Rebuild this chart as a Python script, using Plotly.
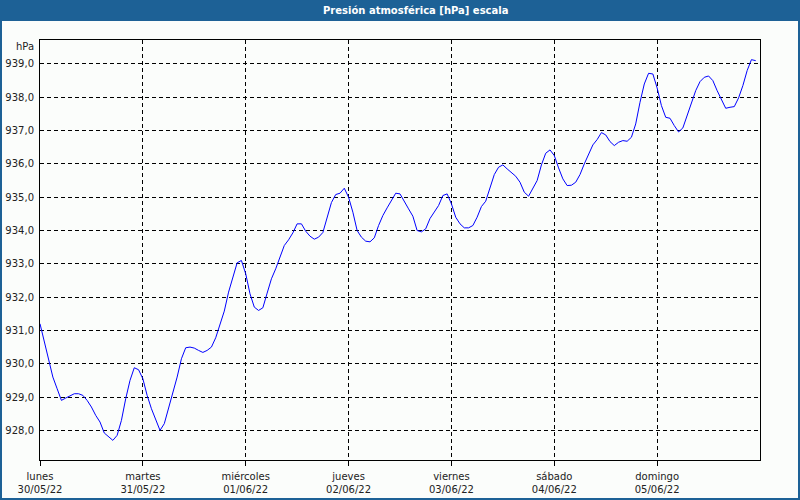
import plotly.graph_objects as go
import pandas as pd

title_text = "Presión atmosférica [hPa] escala"
start_time = "2022-05-30 00:00"

pressure_hpa = [
    931.2, 930.65, 930.1, 929.6, 929.25, 928.9, 928.97, 929.03, 929.1, 929.1,
    929.05, 928.9, 928.7, 928.45, 928.25, 927.92, 927.82, 927.7, 927.85, 928.3,
    928.95, 929.5, 929.88, 929.82, 929.55, 929.05, 928.65, 928.35, 928.0, 928.2,
    928.65, 929.1, 929.6, 930.15, 930.48, 930.5, 930.47, 930.4, 930.34, 930.4,
    930.5, 930.78, 931.22, 931.58, 932.15, 932.6, 933.03, 933.1, 932.7, 932.1,
    931.7, 931.6, 931.68, 932.12, 932.55, 932.85, 933.2, 933.55, 933.72, 933.93,
    934.2, 934.2, 933.98, 933.83, 933.74, 933.8, 933.94, 934.38, 934.84, 935.08,
    935.12, 935.27, 935.0, 934.55, 934.0, 933.8, 933.68, 933.66, 933.78, 934.15,
    934.45, 934.68, 934.9, 935.12, 935.1, 934.85, 934.65, 934.43, 934.0, 933.96,
    934.05, 934.36, 934.57, 934.75, 935.05, 935.1, 934.8, 934.4, 934.2, 934.08,
    934.08, 934.15, 934.4, 934.72, 934.88, 935.3, 935.68, 935.9, 935.97, 935.85,
    935.74, 935.63, 935.45, 935.15, 935.03, 935.28, 935.5, 935.97, 936.32, 936.42,
    936.25, 935.88, 935.55, 935.35, 935.36, 935.45, 935.68, 936.0, 936.3, 936.57,
    936.73, 936.94, 936.87, 936.67, 936.55, 936.65, 936.7, 936.68, 936.8, 937.2,
    937.85, 938.4, 938.72, 938.7, 938.28, 937.75, 937.4, 937.37, 937.15, 936.96,
    937.08, 937.45, 937.88, 938.2, 938.47, 938.6, 938.64, 938.5, 938.2, 937.94,
    937.67, 937.7, 937.72, 937.98, 938.35, 938.8, 939.13, 939.1,
]

day_dates = ["2022-05-30", "2022-05-31", "2022-06-01", "2022-06-02",
             "2022-06-03", "2022-06-04", "2022-06-05"]
day_names = ["lunes", "martes", "miércoles", "jueves", "viernes", "sábado", "domingo"]
day_labels = ["30/05/22", "31/05/22", "01/06/22", "02/06/22",
              "03/06/22", "04/06/22", "05/06/22"]
y_ticks = [928, 929, 930, 931, 932, 933, 934, 935, 936, 937, 938, 939]
y_unit = "hPa"

times = pd.date_range(start_time, periods=len(pressure_hpa), freq="h")

FONT = "DejaVu Sans"
TXT = "#222222"
BLUE_BAR = "#1d6196"

fig = go.Figure()
fig.add_trace(go.Scatter(
    x=times, y=pressure_hpa, mode="lines",
    line=dict(color="#0000ff", width=1),
    hoverinfo="skip", showlegend=False,
))

fig.update_layout(
    width=800, height=500,
    margin=dict(l=40, r=40, t=40, b=40, autoexpand=False),
    paper_bgcolor="#fbfdfb",
    plot_bgcolor="#fbfdfb",
    separators=",.",
    font=dict(family=FONT, size=10, color=TXT),
    showlegend=False,
    xaxis=dict(
        type="date",
        range=["2022-05-30 00:00", "2022-06-06 00:00"],
        tickvals=day_dates,
        ticktext=[f"{n}<br>{d}" for n, d in zip(day_names, day_labels)],
        ticks="outside", ticklen=5, tickcolor="#000000", tickwidth=1,
        ticklabelstandoff=2,
        automargin=False,
        showgrid=True, gridcolor="#000000", gridwidth=1, griddash="4px,3px",
        showline=True, linecolor="#000000", linewidth=1, mirror=True,
        zeroline=False,
        tickfont=dict(family=FONT, size=10, color=TXT),
        fixedrange=True,
    ),
    yaxis=dict(
        range=[927.11, 939.72],
        tickvals=y_ticks,
        tickformat=".1f",
        ticks="",
        automargin=False,
        showgrid=True, gridcolor="#000000", gridwidth=1, griddash="4px,3px",
        showline=True, linecolor="#000000", linewidth=1, mirror=True,
        zeroline=False,
        ticklabelstandoff=3,
        tickfont=dict(family=FONT, size=10, color=TXT),
        fixedrange=True,
    ),
)

pw, ph = 720, 420
def px_x(p):
    return (p - 40) / pw
def px_y(p):
    return (460 - p) / ph

fig.layout.shapes = [
    dict(type="rect", xref="paper", yref="paper", layer="below",
         x0=px_x(0), x1=px_x(800), y0=px_y(21), y1=px_y(0),
         line=dict(width=0), fillcolor=BLUE_BAR),
    dict(type="rect", xref="paper", yref="paper", layer="below",
         x0=px_x(0), x1=px_x(2), y0=px_y(500), y1=px_y(0),
         line=dict(width=0), fillcolor=BLUE_BAR),
    dict(type="rect", xref="paper", yref="paper", layer="below",
         x0=px_x(798), x1=px_x(800), y0=px_y(500), y1=px_y(0),
         line=dict(width=0), fillcolor=BLUE_BAR),
    dict(type="rect", xref="paper", yref="paper", layer="below",
         x0=px_x(0), x1=px_x(800), y0=px_y(500), y1=px_y(498),
         line=dict(width=0), fillcolor=BLUE_BAR),
]

fig.add_annotation(
    text=f"<b>{title_text}</b>", xref="paper", yref="paper",
    x=px_x(415), y=px_y(10.5), xanchor="center", yanchor="middle",
    showarrow=False, font=dict(family=FONT, size=10, color="#ffffff"),
)
fig.add_annotation(
    text=y_unit, xref="paper", yref="paper",
    x=0, y=1, xanchor="right", yanchor="middle", xshift=-4, yshift=-6,
    showarrow=False, font=dict(family=FONT, size=10, color=TXT),
)

fig.write_html("out.html")
